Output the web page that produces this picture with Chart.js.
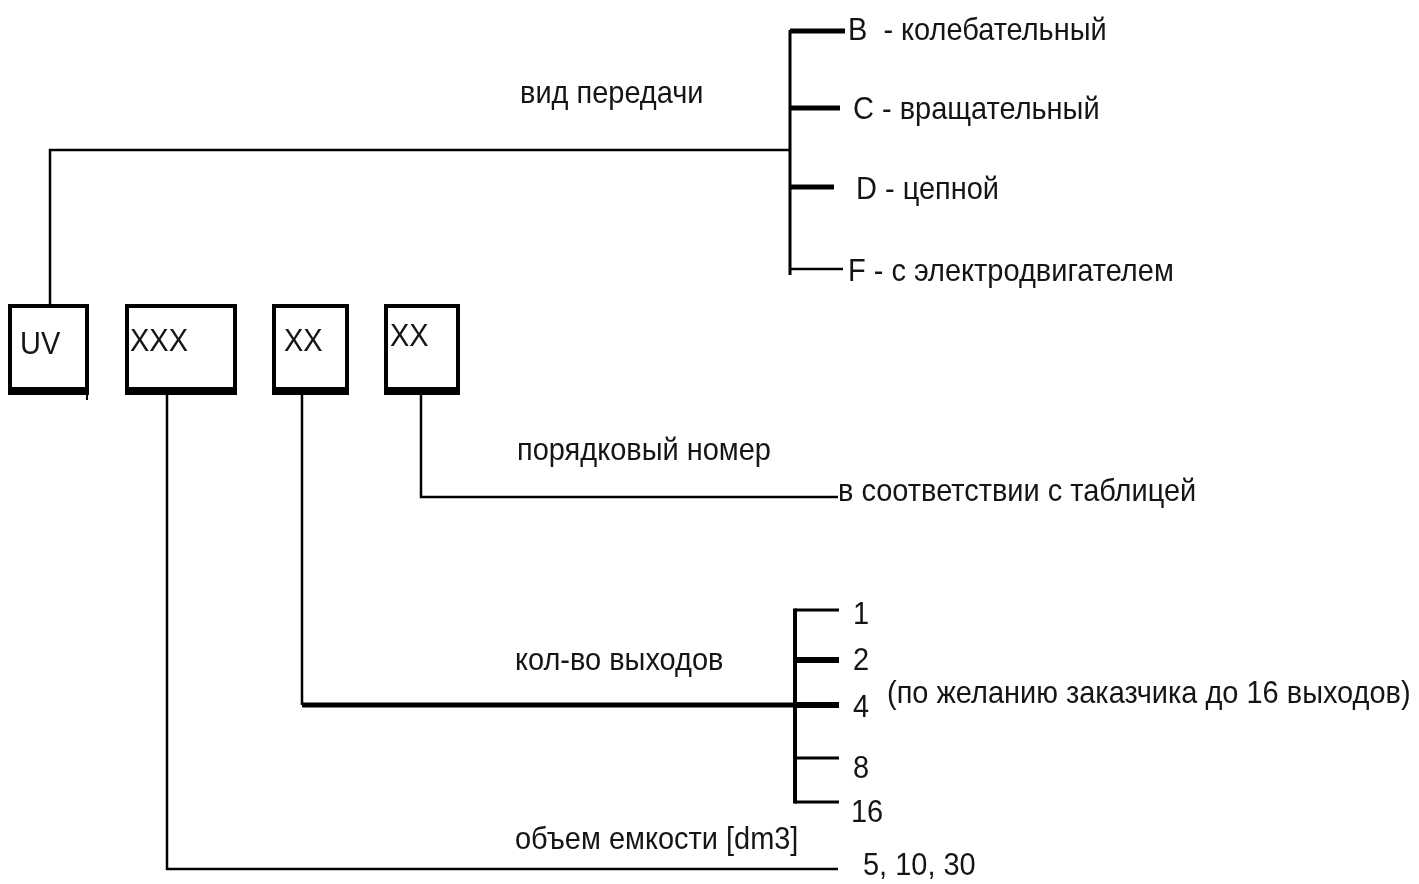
<!DOCTYPE html>
<html>
<head>
<meta charset="utf-8">
<script src="https://cdn.jsdelivr.net/npm/chart.js@4"></script>
<style>
html,body{margin:0;padding:0;background:#fff;}
#wrap{width:1419px;height:884px;}
</style>
</head>
<body>
<div id="wrap"><canvas id="c" width="1419" height="884"></canvas></div>
<script>
// ---- content (data) ----
const codeSegments = ['UV', 'XXX', 'XX', 'XX'];
const transmissionCodes = ['B ', 'C', 'D', 'F'];
const transmissionNames = ['колебательный', 'вращательный', 'цепной', 'с электродвигателем'];
const transmissionTitle = 'вид передачи';
const serialTitle = 'порядковый номер';
const serialNote = 'в соответствии с таблицей';
const outletTitle = 'кол-во выходов';
const outletCounts = [1, 2, 4, 8, 16];
const outletNote = '(по желанию заказчика до 16 выходов)';
const volumeTitle = 'объем емкости [dm3]';
const volumes = [5, 10, 30];

// ---- layout (diagram coordinate space, 0..1419 x 0..884) ----
const boxLeft = [10, 127, 274, 386];
const boxRight = [87, 235, 347, 458];
const boxTop = 306, boxBottom = 391;
const boxTextX = [20, 130, 284, 390];
const boxTextY = [354, 351, 351, 346];
const stemX = [50, 167, 302, 421];

const trBracketX = 790, trBracketTop = 30, trBracketBottom = 275;
const trTickY = [31, 108, 187, 269];
const trTickEnd = [845, 840, 834, 843];
const trTickW = [5, 5, 5, 2.5];
const trTextX = [848, 853, 856, 848];
const trTextY = [40, 119, 199, 281];
const trJoinY = 150;

const serialY = 497, serialEnd = 838;

const outBracketX = 795;
const outTickY = [610, 660, 705, 758, 802];
const outTickEnd = 839;
const outTickW = [3, 6, 6, 3, 3];
const outTextX = [853, 853, 853, 853, 851];
const outTextY = [624, 670, 717, 778, 822];

const volumeY = 869, volumeEnd = 838;

// ---- build datasets ----
const datasets = [];
function seg(points, w) {
  datasets.push({
    type: 'line',
    data: points.map(p => ({x: p[0], y: p[1]})),
    borderColor: '#000',
    borderWidth: w,
    pointRadius: 0,
    fill: false,
    tension: 0,
    borderCapStyle: 'butt',
    borderJoinStyle: 'miter',
    showLine: true
  });
}
// boxes
codeSegments.forEach((s, i) => {
  const l = boxLeft[i], r = boxRight[i], mid = (l + r) / 2;
  seg([[mid, boxTop], [r, boxTop], [r, boxBottom], [l, boxBottom], [l, boxTop], [mid, boxTop]], 4);
  seg([[l - 2, boxBottom], [r + 2, boxBottom]], 8);
});
// small mark under the UV box corner
seg([[boxRight[0], boxBottom], [boxRight[0], boxBottom + 9]], 2);
// UV -> transmission
seg([[stemX[0], boxTop - 2], [stemX[0], trJoinY], [trBracketX, trJoinY]], 2.5);
seg([[trBracketX, trBracketTop], [trBracketX, trBracketBottom]], 3);
transmissionCodes.forEach((c, i) => seg([[trBracketX, trTickY[i]], [trTickEnd[i], trTickY[i]]], trTickW[i]));
// serial number
seg([[stemX[3], boxBottom + 4], [stemX[3], serialY], [serialEnd, serialY]], 2.5);
// outlets
seg([[stemX[2], boxBottom + 4], [stemX[2], outTickY[2]]], 2.5);
seg([[stemX[2], outTickY[2]], [outBracketX, outTickY[2]]], 5);
seg([[outBracketX, outTickY[0] - 1.5], [outBracketX, outTickY[4] + 1.5]], 4);
outletCounts.forEach((n, i) => seg([[outBracketX, outTickY[i]], [outTickEnd, outTickY[i]]], outTickW[i]));
// volume
seg([[stemX[1], boxBottom + 4], [stemX[1], volumeY], [volumeEnd, volumeY]], 2.5);

// ---- labels ----
const labels = [];
codeSegments.forEach((s, i) => labels.push([s, boxTextX[i], boxTextY[i]]));
labels.push([transmissionTitle, 520, 103]);
transmissionCodes.forEach((c, i) => labels.push([c + ' - ' + transmissionNames[i], trTextX[i], trTextY[i]]));
labels.push([serialTitle, 517, 460]);
labels.push([serialNote, 838, 501]);
labels.push([outletTitle, 515, 670]);
outletCounts.forEach((n, i) => labels.push([String(n), outTextX[i], outTextY[i]]));
labels.push([outletNote, 887, 703]);
labels.push([volumeTitle, 515, 849]);
labels.push([volumes.join(', '), 863, 875]);

const textPlugin = {
  id: 'diagramText',
  afterDatasetsDraw(chart) {
    const ctx = chart.ctx, xs = chart.scales.x, ys = chart.scales.y;
    ctx.save();
    ctx.fillStyle = '#151515';
    ctx.font = '32px "Liberation Sans", Arial, sans-serif';
    ctx.textBaseline = 'alphabetic';
    ctx.textAlign = 'left';
    labels.forEach(([t, x, y]) => {
      ctx.save();
      ctx.translate(xs.getPixelForValue(x), ys.getPixelForValue(y));
      ctx.scale(0.905, 1);
      ctx.fillText(t, 0, 0);
      ctx.restore();
    });
    ctx.restore();
  }
};

new Chart(document.getElementById('c'), {
  type: 'scatter',
  data: { datasets },
  options: {
    responsive: false,
    animation: false,
    layout: { padding: 0 },
    plugins: { legend: { display: false }, tooltip: { enabled: false } },
    scales: {
      x: { type: 'linear', min: 0, max: 1419, display: false },
      y: { type: 'linear', min: 0, max: 884, reverse: true, display: false }
    }
  },
  plugins: [textPlugin]
});
</script>
</body>
</html>
